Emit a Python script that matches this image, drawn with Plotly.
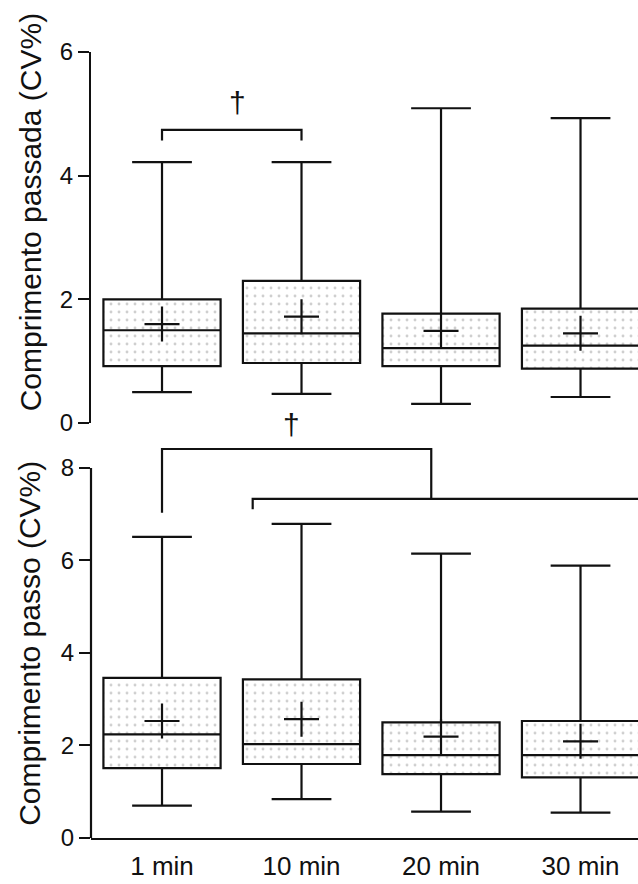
import plotly.graph_objects as go

categories = ["1 min", "10 min", "20 min", "30 min"]

# Comprimento passada (CV%)
passada_low = [0.50, 0.47, 0.31, 0.42]
passada_q1 = [0.92, 0.97, 0.92, 0.88]
passada_median = [1.50, 1.45, 1.21, 1.25]
passada_q3 = [2.00, 2.30, 1.77, 1.85]
passada_high = [4.22, 4.22, 5.09, 4.93]
passada_mean = [1.60, 1.72, 1.49, 1.45]

# Comprimento passo (CV%)
passo_low = [0.70, 0.84, 0.57, 0.55]
passo_q1 = [1.51, 1.60, 1.38, 1.31]
passo_median = [2.24, 2.03, 1.79, 1.79]
passo_q3 = [3.46, 3.43, 2.50, 2.53]
passo_high = [6.51, 6.79, 6.15, 5.89]
passo_mean = [2.53, 2.57, 2.19, 2.09]

# significance brackets (category position, value)
top_bracket_x = [0, 0, 1, 1]
top_bracket_y = [4.57, 4.74, 4.74, 4.57]
top_dagger = (0.54, 5.19)
bot_bracket_a_x = [0, 0, 1.93, 1.93]
bot_bracket_a_y = [7.03, 8.41, 8.41, 7.33]
bot_bracket_b_x = [0.65, 0.65, 3.6]
bot_bracket_b_y = [7.11, 7.33, 7.33]
bot_dagger = (0.93, 8.93)

xpos = list(range(len(categories)))
BW = 0.84
INK = "#111111"
FONT = "Liberation Sans, Arial, sans-serif"
LW = 2.2

fig = go.Figure()

def add_panel(xa, ya, low, q1, med, q3, high, mean):
    fig.add_trace(go.Bar(
        x=xpos, y=[b - a for a, b in zip(q1, q3)], base=q1, width=BW,
        marker=dict(color="white", line=dict(width=0),
                    pattern=dict(shape=".", fgcolor="#cfcfcf", bgcolor="white",
                                 size=8, solidity=0.1, fillmode="replace")),
        xaxis=xa, yaxis=ya, showlegend=False, hoverinfo="skip"))
    fig.add_trace(go.Box(
        x=xpos, q1=q1, median=med, q3=q3, lowerfence=low, upperfence=high,
        width=BW, whiskerwidth=0.51, boxpoints=False,
        fillcolor="rgba(0,0,0,0)", line=dict(color=INK, width=LW),
        xaxis=xa, yaxis=ya, showlegend=False))
    fig.add_trace(go.Scatter(
        x=xpos, y=mean, mode="markers",
        marker=dict(symbol="cross-thin", size=25, color=INK,
                    line=dict(width=LW, color=INK)),
        xaxis=xa, yaxis=ya, showlegend=False))

add_panel("x", "y", passada_low, passada_q1, passada_median, passada_q3,
          passada_high, passada_mean)
add_panel("x2", "y2", passo_low, passo_q1, passo_median, passo_q3,
          passo_high, passo_mean)

line_style = dict(color=INK, width=LW)
fig.add_trace(go.Scatter(x=top_bracket_x, y=top_bracket_y, mode="lines",
                         line=line_style, xaxis="x", yaxis="y",
                         showlegend=False, hoverinfo="skip"))
fig.add_trace(go.Scatter(x=bot_bracket_a_x, y=bot_bracket_a_y, mode="lines",
                         line=line_style, xaxis="x2", yaxis="y2",
                         showlegend=False, hoverinfo="skip"))
fig.add_trace(go.Scatter(x=bot_bracket_b_x, y=bot_bracket_b_y, mode="lines",
                         line=line_style, xaxis="x2", yaxis="y2",
                         showlegend=False, hoverinfo="skip"))

fig.add_annotation(x=top_dagger[0], y=top_dagger[1], xref="x", yref="y",
                   text="†", showarrow=False, font=dict(size=30, color=INK, family=FONT))
fig.add_annotation(x=bot_dagger[0], y=bot_dagger[1], xref="x2", yref="y2",
                   text="†", showarrow=False, font=dict(size=30, color=INK, family=FONT))

# y axis titles
fig.add_annotation(x=0, xref="paper", xshift=-61, y=0.796, yref="paper",
                   text="Comprimento passada (CV%)", textangle=-90, showarrow=False,
                   xanchor="center", yanchor="middle",
                   font=dict(size=30, color=INK, family=FONT))
fig.add_annotation(x=0, xref="paper", xshift=-61, y=0.247, yref="paper",
                   text="Comprimento passo (CV%)", textangle=-90, showarrow=False,
                   xanchor="center", yanchor="middle",
                   font=dict(size=30, color=INK, family=FONT))

# bottom y axis line from 0 to 8
fig.add_shape(type="line", xref="x2 domain", yref="y2", x0=0, x1=0, y0=0, y1=8,
              line=dict(color=INK, width=LW))

xr = [-0.509, 3.412]
fig.update_layout(
    width=638, height=884,
    margin=dict(l=91, r=0, t=52, b=46),
    paper_bgcolor="white", plot_bgcolor="white",
    font=dict(family=FONT, color=INK),
    barmode="overlay",
    xaxis=dict(domain=[0, 1], range=xr, showline=False, showticklabels=False,
               ticks="", showgrid=False, zeroline=False, anchor="y"),
    yaxis=dict(domain=[0.528, 1], range=[0, 6], tickvals=[0, 2, 4, 6],
               showline=True, linecolor=INK, linewidth=LW, ticks="outside",
               ticklen=11, tickwidth=LW, tickcolor=INK, showgrid=False,
               zeroline=False, tickfont=dict(size=24, color=INK, family=FONT),
               anchor="x"),
    xaxis2=dict(domain=[0, 1], range=xr, tickvals=xpos, ticktext=categories,
                showline=True, linecolor=INK, linewidth=LW, ticks="",
                showgrid=False, zeroline=False,
                tickfont=dict(size=26, color=INK, family=FONT),
                ticklabelstandoff=4, anchor="y2"),
    yaxis2=dict(domain=[0, 0.5355], range=[0, 9.1], tickvals=[0, 2, 4, 6, 8],
                showline=False, ticks="outside", ticklen=11, tickwidth=LW,
                tickcolor=INK, showgrid=False, zeroline=False,
                tickfont=dict(size=24, color=INK, family=FONT),
                anchor="x2"),
)

fig.write_html("out.html")
